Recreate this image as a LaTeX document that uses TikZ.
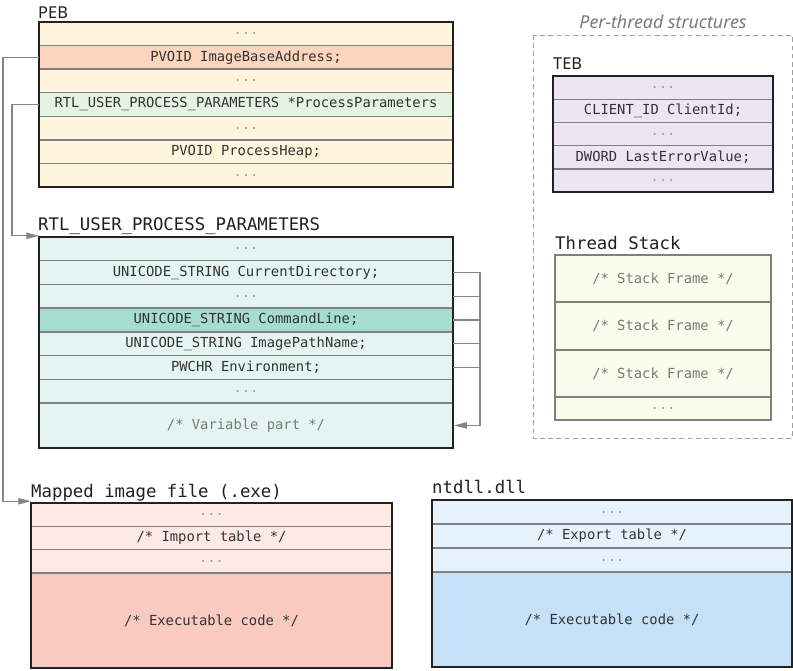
\documentclass[tikz,border=0pt]{standalone}
\usepackage{fontspec}
\setmainfont{Noto Sans}
\setmonofont{DejaVu Sans Mono}
\usetikzlibrary{positioning,arrows.meta}
\definecolor{pebfill}{HTML}{FFF5DC}
\definecolor{pebimgfill}{HTML}{FCD5BE}
\definecolor{pebrtlfill}{HTML}{E5F3E2}
\definecolor{rtlfill}{HTML}{E4F4F0}
\definecolor{rtlhl}{HTML}{A6DDD1}
\definecolor{tebfill}{HTML}{ECE6F4}
\definecolor{stackfill}{HTML}{F9FBEB}
\definecolor{exelight}{HTML}{FDEAE5}
\definecolor{exedark}{HTML}{F9CABF}
\definecolor{dlllight}{HTML}{E5F2FC}
\definecolor{dlldark}{HTML}{C5E1F7}
\definecolor{sepgray}{HTML}{808080}
\definecolor{framecol}{HTML}{222222}
\definecolor{linkgray}{HTML}{858585}
\definecolor{fieldtext}{HTML}{333333}
\definecolor{dotgray}{HTML}{A0A0A0}
\definecolor{notegray}{HTML}{7A7A7A}
\begin{document}
\begin{tikzpicture}[x=0.03cm,y=-0.03cm,
    row/.style={draw=sepgray,line width=1.2pt,inner sep=0pt,outer sep=0pt,
      minimum height=0.707cm,font=\fontsize{11.8}{14}\selectfont\ttfamily,text=fieldtext},
    dots/.style={text=dotgray},
    note/.style={text=notegray},
    frame/.style={draw=framecol,line width=2.2pt},
    title/.style={anchor=base west,inner sep=0pt,font=\fontsize{14.8}{17}\selectfont\ttfamily,text=black!88},
    sanstitle/.style={anchor=base west,inner sep=0pt,font=\fontsize{14}{17}\selectfont,text=black!88},
    link/.style={draw=linkgray,line width=1pt,-{Triangle[length=3.8mm,width=1.9mm]}},
    wire/.style={draw=linkgray,line width=1pt}]
    \useasboundingbox (0,0) rectangle (793,670);

    % PEB
    \begin{scope}[row/.append style={minimum width=12.42cm,fill=pebfill}]
        \node[row,dots,anchor=north west] (peb1) at (39,22) {...};
        \node[row,fill=pebimgfill,below=0pt of peb1] (pebimg) {PVOID ImageBaseAddress;};
        \node[row,dots,below=0pt of pebimg] (peb3) {...};
        \node[row,fill=pebrtlfill,below=0pt of peb3] (pebrtl) {RTL\_USER\_PROCESS\_PARAMETERS *ProcessParameters};
        \node[row,dots,below=0pt of pebrtl] (peb5) {...};
        \node[row,below=0pt of peb5] (pebheap) {PVOID ProcessHeap;};
        \node[row,dots,below=0pt of pebheap] (peb7) {...};
    \end{scope}
    \draw[frame] (peb1.north west) rectangle (peb7.south east);
    \node[sanstitle] (pebtitle) at (38,18) {PEB};

    % RTL_USER_PROCESS_PARAMETERS
    \begin{scope}[row/.append style={minimum width=12.42cm,minimum height=0.711cm,fill=rtlfill}]
        \node[row,dots,anchor=north west] (rtl1) at (39,237) {...};
        \node[row,below=0pt of rtl1] (rtlcur) {UNICODE\_STRING CurrentDirectory;};
        \node[row,dots,below=0pt of rtlcur] (rtl3) {...};
        \node[row,fill=rtlhl,below=0pt of rtl3] (rtlcmd) {UNICODE\_STRING CommandLine;};
        \node[row,below=0pt of rtlcmd] (rtlimg) {UNICODE\_STRING ImagePathName;};
        \node[row,below=0pt of rtlimg] (rtlenv) {PWCHR Environment;};
        \node[row,dots,below=0pt of rtlenv] (rtl7) {...};
        \node[row,note,minimum height=1.35cm,below=0pt of rtl7] (rtlvar) {/* Variable part */};
    \end{scope}
    \draw[frame] (rtl1.north west) rectangle (rtlvar.south east);
    \node[title] (rtltitle) at (38,230) {RTL\_USER\_PROCESS\_PARAMETERS};

    % per-thread
    \draw[draw=dotgray,line width=0.8pt,dash pattern=on 4pt off 3pt] (533,35) rectangle (792,438);
    \node[anchor=base,inner sep=0pt,font=\fontsize{15.2}{18}\selectfont\itshape,text=notegray] (pertitle) at (663,28) {Per-thread structures};

    \begin{scope}[row/.append style={minimum width=6.6cm,minimum height=0.696cm,fill=tebfill}]
        \node[row,dots,anchor=north west] (teb1) at (553,76) {...};
        \node[row,below=0pt of teb1] (tebcid) {CLIENT\_ID ClientId;};
        \node[row,dots,below=0pt of tebcid] (teb3) {...};
        \node[row,below=0pt of teb3] (teberr) {DWORD LastErrorValue;};
        \node[row,dots,below=0pt of teberr] (teb5) {...};
    \end{scope}
    \draw[frame] (teb1.north west) rectangle (teb5.south east);
    \node[sanstitle] (tebtitle) at (553,69) {TEB};

    \begin{scope}[row/.append style={minimum width=6.48cm,minimum height=1.41cm,fill=stackfill}]
        \node[row,note,anchor=north west] (stk1) at (555,255) {/* Stack Frame */};
        \node[row,note,minimum height=1.44cm,below=0pt of stk1] (stk2) {/* Stack Frame */};
        \node[row,note,below=0pt of stk2] (stk3) {/* Stack Frame */};
        \node[row,dots,minimum height=0.69cm,below=0pt of stk3] (stk4) {...};
    \end{scope}
    \node[title] (stktitle) at (555,249) {Thread Stack};

    % mapped image
    \begin{scope}[row/.append style={minimum width=10.83cm,minimum height=0.7cm,fill=exelight}]
        \node[row,dots,anchor=north west] (exe1) at (31,503) {...};
        \node[row,below=0pt of exe1] (exeimp) {/* Import table */};
        \node[row,dots,below=0pt of exeimp] (exe3) {...};
        \node[row,fill=exedark,minimum height=2.85cm,below=0pt of exe3] (execode) {/* Executable code */};
    \end{scope}
    \draw[frame] (exe1.north west) rectangle (execode.south east);
    \node[title] (exetitle) at (31,497) {Mapped image file (.exe)};

    % ntdll
    \begin{scope}[row/.append style={minimum width=10.8cm,minimum height=0.72cm,fill=dlllight}]
        \node[row,dots,anchor=north west] (dll1) at (432,500) {...};
        \node[row,below=0pt of dll1] (dllexp) {/* Export table */};
        \node[row,dots,below=0pt of dllexp] (dll3) {...};
        \node[row,fill=dlldark,minimum height=2.85cm,below=0pt of dll3] (dllcode) {/* Executable code */};
    \end{scope}
    \draw[frame] (dll1.north west) rectangle (dllcode.south east);
    \node[title] (dlltitle) at (432,493) {ntdll.dll};

    % pointers
    \draw[link] (pebimg.west) -- ++(-36,0) |- ([yshift=1.5pt]exe1.north west);
    \draw[link] (pebrtl.west) -- ++(-27,0) |- ([yshift=1pt]rtl1.north west);
    \draw[link,shorten >=1pt] (rtlcur.east) -- ++(27,0) |- (rtlvar.east);
    \draw[wire] (rtl3.east) -- ++(27,0);
    \draw[wire] (rtlcmd.east) -- ++(27,0);
    \draw[wire] (rtlimg.east) -- ++(27,0);
    \draw[wire] (rtlenv.east) -- ++(27,0);
\end{tikzpicture}
\end{document}
